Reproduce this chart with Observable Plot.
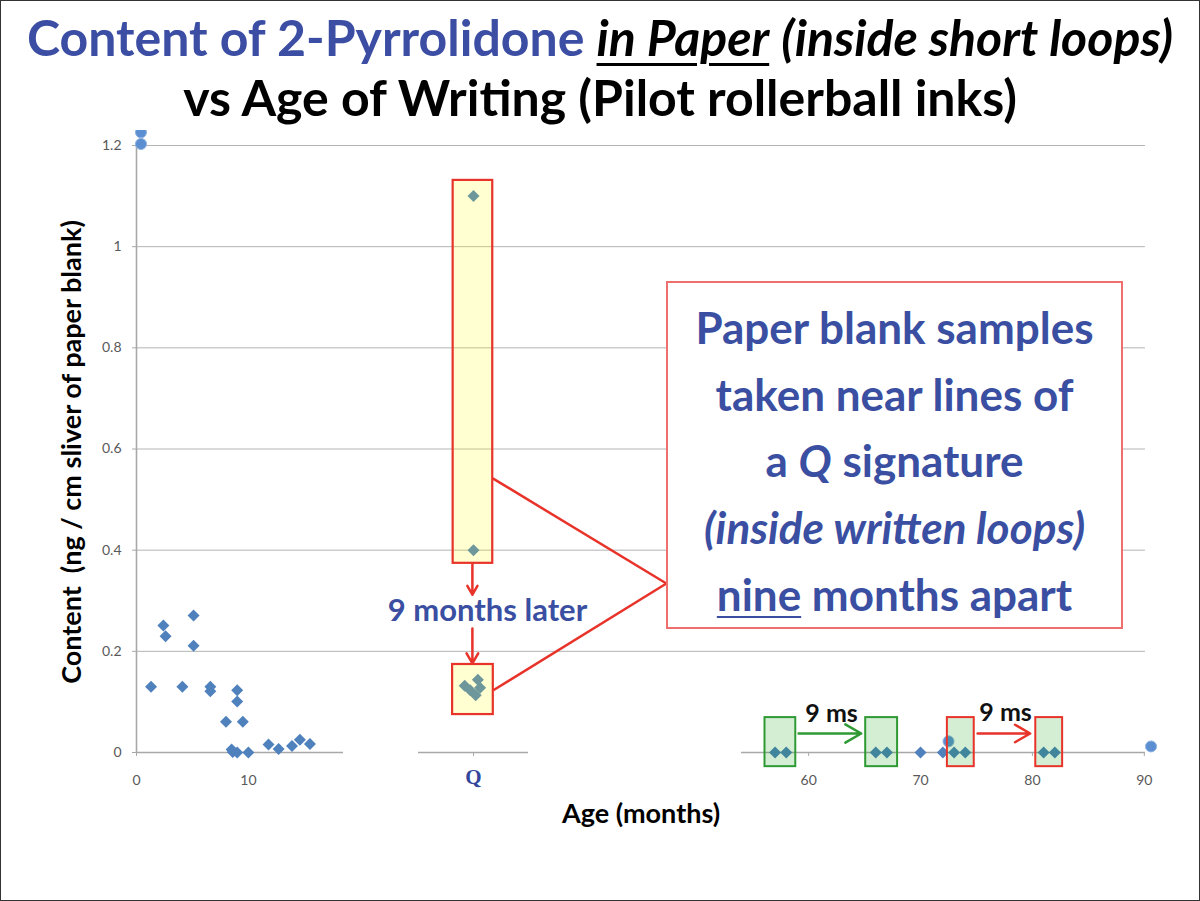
<!DOCTYPE html>
<html>
<head>
<meta charset="utf-8">
<script src="https://cdn.jsdelivr.net/npm/d3@7"></script>
<script src="https://cdn.jsdelivr.net/npm/@observablehq/plot@0.6"></script>
<style>
  body { margin: 0; background: #fff; }
  #page { position: relative; width: 1200px; height: 901px; overflow: hidden; font-family: Lato, "Open Sans", sans-serif; background: #fff; }
  .tl { position: absolute; left: 0; width: 1200px; text-align: center; font-weight: bold; white-space: nowrap; font-size: 50px; line-height: 60px; color: #000; }
  #t1 { top: 7px; }
  #t1 .blue { color: #3b4ea3; }
  #t1 .it { font-style: italic; }
  #t1 .ul { text-decoration: underline; text-decoration-thickness: 2.5px; text-underline-offset: 7px; }
  #t2 { top: 67px; }
  #chart { position: absolute; left: 0; top: 130px; }
  #callout { position: absolute; left: 666px; top: 281px; width: 457px; height: 348px; border: 2px solid #ef6f6f; background: #fff; box-sizing: border-box; text-align: center; color: #3a4fa2; font-weight: bold; font-size: 44px; line-height: 66.7px; padding-top: 11px; white-space: nowrap; }
  #callout .ul { text-decoration: underline; text-decoration-thickness: 2px; text-underline-offset: 5px; }
  #frame { position: absolute; left: 0; top: 0; width: 1200px; height: 901px; box-sizing: border-box; border: 1.5px solid #333; pointer-events: none; }
</style>
</head>
<body>
<div id="page">
  <div class="tl" id="t1"><span class="blue">Content of 2-Pyrrolidone</span> <span class="it ul">in Paper</span> <span class="it">(inside short loops)</span></div>
  <div class="tl" id="t2">vs Age of Writing (Pilot rollerball inks)</div>
  <div id="chart"></div>
  <div id="callout">
    <div>Paper blank samples</div>
    <div>taken near lines of</div>
    <div>a <i>Q</i> signature</div>
    <div><i>(inside written loops)</i></div>
    <div><span class="ul">nine</span> months apart</div>
  </div>
  <div id="frame"></div>
</div>
<script>
// ---- data ----
// left panel: age in months, content in ng/cm
const leftAge     = [1.3, 2.4, 2.6, 4.1, 5.1, 5.1, 6.6, 6.6, 8.0, 9.0, 9.0, 9.5, 8.5, 8.6, 9.0, 10.0, 11.8, 12.7, 13.9, 14.6, 15.5];
const leftContent = [0.13, 0.251, 0.23, 0.13, 0.271, 0.211, 0.13, 0.121, 0.061, 0.123, 0.101, 0.061, 0.006, 0.001, 0.0, 0.0, 0.016, 0.007, 0.013, 0.025, 0.017];
// right panel diamonds
const rightAge     = [57.0, 58.0, 66.0, 67.0, 70.0, 72.0, 73.0, 74.0, 81.0, 82.0];
const rightContent = [0, 0, 0, 0, 0, 0, 0, 0, 0, 0];
// round markers
const circleAge     = [0.4, 0.4, 72.5, 90.6];
const circleContent = [1.203, 1.226, 0.022, 0.012];
// Q signature samples (offset within the Q slot)
const qOffset  = [0, 0, -0.8, 0.4, -0.3, 0.2, 0.6];
const qContent = [1.10, 0.40, 0.132, 0.144, 0.123, 0.113, 0.128];
// ticks
const xTicks = [0, 10, 60, 70, 80, 90];
const xTickLabels = ["0", "10", "60", "70", "80", "90"];
const yTicks = [0, 0.2, 0.4, 0.6, 0.8, 1, 1.2];
const yTickLabels = ["0", "0.2", "0.4", "0.6", "0.8", "1", "1.2"];
const qLabel = "Q";

// ---- broken x axis: left panel, Q slot, right panel ----
const qSlot = 30;
const xDomain = [0, 18.5, 25, 35, 54, 91];
const xRange  = [136, 343, 418, 528, 741, 1155];
const axisSegments = [{x1: 0, x2: 18.5}, {x1: 25, x2: 35}, {x1: 54, x2: 90.1}];

const diamonds = [
  ...leftAge.map((a, i) => ({x: a, y: leftContent[i]})),
  ...rightAge.map((a, i) => ({x: a, y: rightContent[i]})),
  ...qOffset.map((o, i) => ({x: qSlot + o, y: qContent[i]}))
];
const circles = circleAge.map((a, i) => ({x: a, y: circleContent[i]}));

// annotation boxes
const qBoxes = [
  {x1: qSlot - 1.85, x2: qSlot + 1.75, y1: 0.374, y2: 1.131},
  {x1: qSlot - 1.9,  x2: qSlot + 1.8,  y1: 0.075, y2: 0.174}
];
const greenBoxes = [
  {x1: 56.1, x2: 58.85, y1: -0.028, y2: 0.069},
  {x1: 65.1, x2: 67.95, y1: -0.028, y2: 0.069}
];
const redBoxes = [
  {x1: 72.4, x2: 74.8, y1: -0.028, y2: 0.069},
  {x1: 80.3, x2: 82.7, y1: -0.028, y2: 0.069}
];
const redArrows = [
  {x1: qSlot - 0.1, y1: 0.372, x2: qSlot - 0.1, y2: 0.312},
  {x1: qSlot - 0.1, y1: 0.245, x2: qSlot - 0.1, y2: 0.176},
  {x1: 75.1, y1: 0.0376, x2: 79.8, y2: 0.0376}
];
const greenArrows = [{x1: 59.1, y1: 0.0376, x2: 64.7, y2: 0.0376}];
const callouts = [
  {x1: qSlot + 1.75, y1: 0.542, x2: 47.3, y2: 0.334},
  {x1: qSlot + 1.8,  y1: 0.123, x2: 47.3, y2: 0.334}
];
const msLabels = [{x: 62.05, y: 0.077, t: "9 ms"}, {x: 77.6, y: 0.079, t: "9 ms"}];

const blue = "#4f81bd";
const red = "#e8332a";
const green = "#2f9a34";

const chart = Plot.plot({
  width: 1200,
  height: 771,
  marginLeft: 136,
  marginRight: 45,
  marginTop: 15,
  marginBottom: 149,
  style: {fontFamily: "Lato, 'Open Sans', sans-serif", background: "transparent"},
  x: {type: "linear", domain: xDomain, range: xRange},
  y: {type: "linear", domain: [0, 1.2]},
  marks: [
    Plot.ruleY(yTicks.filter(d => d > 0), {x1: 0, x2: 90.1, stroke: "#b4b4b4", strokeWidth: 1}),
    Plot.ruleY(axisSegments, {y: 0, x1: "x1", x2: "x2", stroke: "#a8a8a8", strokeWidth: 1.6}),
    Plot.ruleX([0], {y1: 0, y2: 1.2, stroke: "#a8a8a8", strokeWidth: 1.6}),
    Plot.axisY({ticks: yTicks, tickFormat: d => yTickLabels[yTicks.indexOf(d)], tickSize: 4, tickPadding: 11, fontSize: 14, fill: "#595959", stroke: "#a8a8a8", label: null}),
    Plot.axisX({ticks: xTicks, tickFormat: d => xTickLabels[xTicks.indexOf(d)], tickSize: 4, tickPadding: 19, fontSize: 14, fill: "#595959", stroke: "#a8a8a8", label: null}),
    Plot.axisX({ticks: [qSlot], tickFormat: () => qLabel, tickSize: 4, tickPadding: 13, fontSize: 21, fontWeight: "bold", fontFamily: "'Liberation Serif', serif", fill: "#34469c", stroke: "#a8a8a8", label: null}),
    Plot.dot(diamonds, {x: "x", y: "y", symbol: d3.symbolDiamond2, r: 5.4, fill: blue, stroke: "none"}),
    Plot.dot(circles, {x: "x", y: "y", r: 5.5, fill: "#5b8fd2", stroke: "#8cb1e0", strokeWidth: 1}),
    Plot.rect(qBoxes, {x1: "x1", x2: "x2", y1: "y1", y2: "y2", fill: "#ffff00", fillOpacity: 0.18, stroke: red, strokeWidth: 2.2}),
    Plot.rect(greenBoxes, {x1: "x1", x2: "x2", y1: "y1", y2: "y2", fill: "#009a00", fillOpacity: 0.17, stroke: green, strokeWidth: 2}),
    Plot.rect(redBoxes, {x1: "x1", x2: "x2", y1: "y1", y2: "y2", fill: "#009a00", fillOpacity: 0.17, stroke: red, strokeWidth: 2}),
    Plot.link(callouts, {x1: "x1", y1: "y1", x2: "x2", y2: "y2", stroke: red, strokeWidth: 2.5}),
    Plot.arrow(redArrows, {x1: "x1", y1: "y1", x2: "x2", y2: "y2", stroke: red, strokeWidth: 2.5, headLength: 11}),
    Plot.arrow(greenArrows, {x1: "x1", y1: "y1", x2: "x2", y2: "y2", stroke: green, strokeWidth: 2.5, headLength: 11}),
    Plot.text(["9 months later"], {x: qSlot + 1.27, y: 0.279, text: d => d, fontSize: 31, fontWeight: "bold", fill: "#3a4fa2"}),
    Plot.text(msLabels, {x: "x", y: "y", text: "t", fontSize: 25, fontWeight: "bold", fill: "#111"}),
    Plot.text(["Content  (ng / cm sliver of paper blank)"], {frameAnchor: "left", textAnchor: "middle", dx: -64, dy: 3, rotate: -90, text: d => d, fontSize: 27, fontWeight: "bold", fill: "#000"}),
    Plot.text(["Age (months)"], {frameAnchor: "bottom", dx: -5, dy: 70, text: d => d, fontSize: 27, fontWeight: "bold", fill: "#000"})
  ]
});
document.getElementById("chart").appendChild(chart);
</script>
</body>
</html>
